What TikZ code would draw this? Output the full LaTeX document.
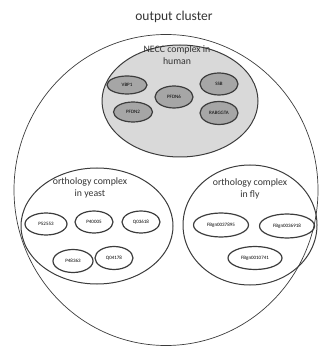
\documentclass[tikz,border=0pt]{standalone}
\usepackage{fontspec}
\setmainfont{Carlito}
\usetikzlibrary{shapes.geometric,positioning}
\definecolor{rimgray}{RGB}{60,60,60}
\definecolor{humanfill}{RGB}{217,217,217}
\definecolor{protfill}{RGB}{166,166,166}
\begin{document}
\begin{tikzpicture}[x=1pt,y=-1pt,
cluster/.style={ellipse,draw=rimgray,line width=0.7pt,inner sep=0pt},
complex/.style={ellipse,draw=rimgray,line width=1pt,inner sep=0pt},
prot/.style={ellipse,draw=rimgray,line width=1.2pt,inner sep=0pt,font=\fontsize{5}{6}\selectfont},
caption/.style={align=center,font=\fontsize{9.8}{12}\selectfont,text=black!80}
]
\useasboundingbox (0,0) rectangle (320,347);
\node (title)[font=\fontsize{13.5}{15}\selectfont,text=black!80] at (174,17) {output cluster};
\node (out)[cluster,minimum width=304pt,minimum height=311pt] at (166,190) {};
% human
\node (human)[complex,fill=humanfill,minimum width=156pt,minimum height=112pt] at (180,101) {};
\node (humantxt)[caption] at (177,55) {NECC complex in\\human};
\node (vbp1)[prot,fill=protfill,minimum width=40pt,minimum height=18pt] at (127,85) {VBP1};
\node (pfdn6)[prot,fill=protfill,minimum width=38pt,minimum height=22pt] at (174,97) {PFDN6};
\node (ssb)[prot,fill=protfill,minimum width=38pt,minimum height=22pt] at (219,84) {SSB};
\node (pfdn2)[prot,fill=protfill,minimum width=39pt,minimum height=20pt] at (133,112) {PFDN2};
\node (rabggta)[prot,fill=protfill,minimum width=38pt,minimum height=23pt] at (219,113) {RABGGTA};
% yeast
\node (yeast)[complex,minimum width=152pt,minimum height=116pt] at (97,226) {};
\node (yeasttxt)[caption] at (90,188) {orthology complex\\in yeast};
\node (p52553)[prot,minimum width=42pt,minimum height=22pt] at (46,224) {P52553};
\node (p40005)[prot,minimum width=38pt,minimum height=22pt] at (94,222) {P40005};
\node (q03618)[prot,minimum width=38pt,minimum height=22pt] at (141,222) {Q03618};
\node (p48363)[prot,minimum width=40pt,minimum height=23pt] at (73,261) {P48363};
\node (q04178)[prot,minimum width=38pt,minimum height=23pt] at (114,258) {Q04178};
% fly
\node (fly)[complex,minimum width=134pt,minimum height=120pt] at (250,225) {};
\node (flytxt)[caption] at (250,189) {orthology complex\\in fly};
\node (fb37895)[prot,minimum width=55pt,minimum height=24pt] at (221,225) {FBgn0037895};
\node (fb36918)[prot,minimum width=55pt,minimum height=24pt] at (287,226) {FBgn0036918};
\node (fb10741)[prot,minimum width=54pt,minimum height=23pt] at (255,258) {FBgn0010741};
\end{tikzpicture}
\end{document}
